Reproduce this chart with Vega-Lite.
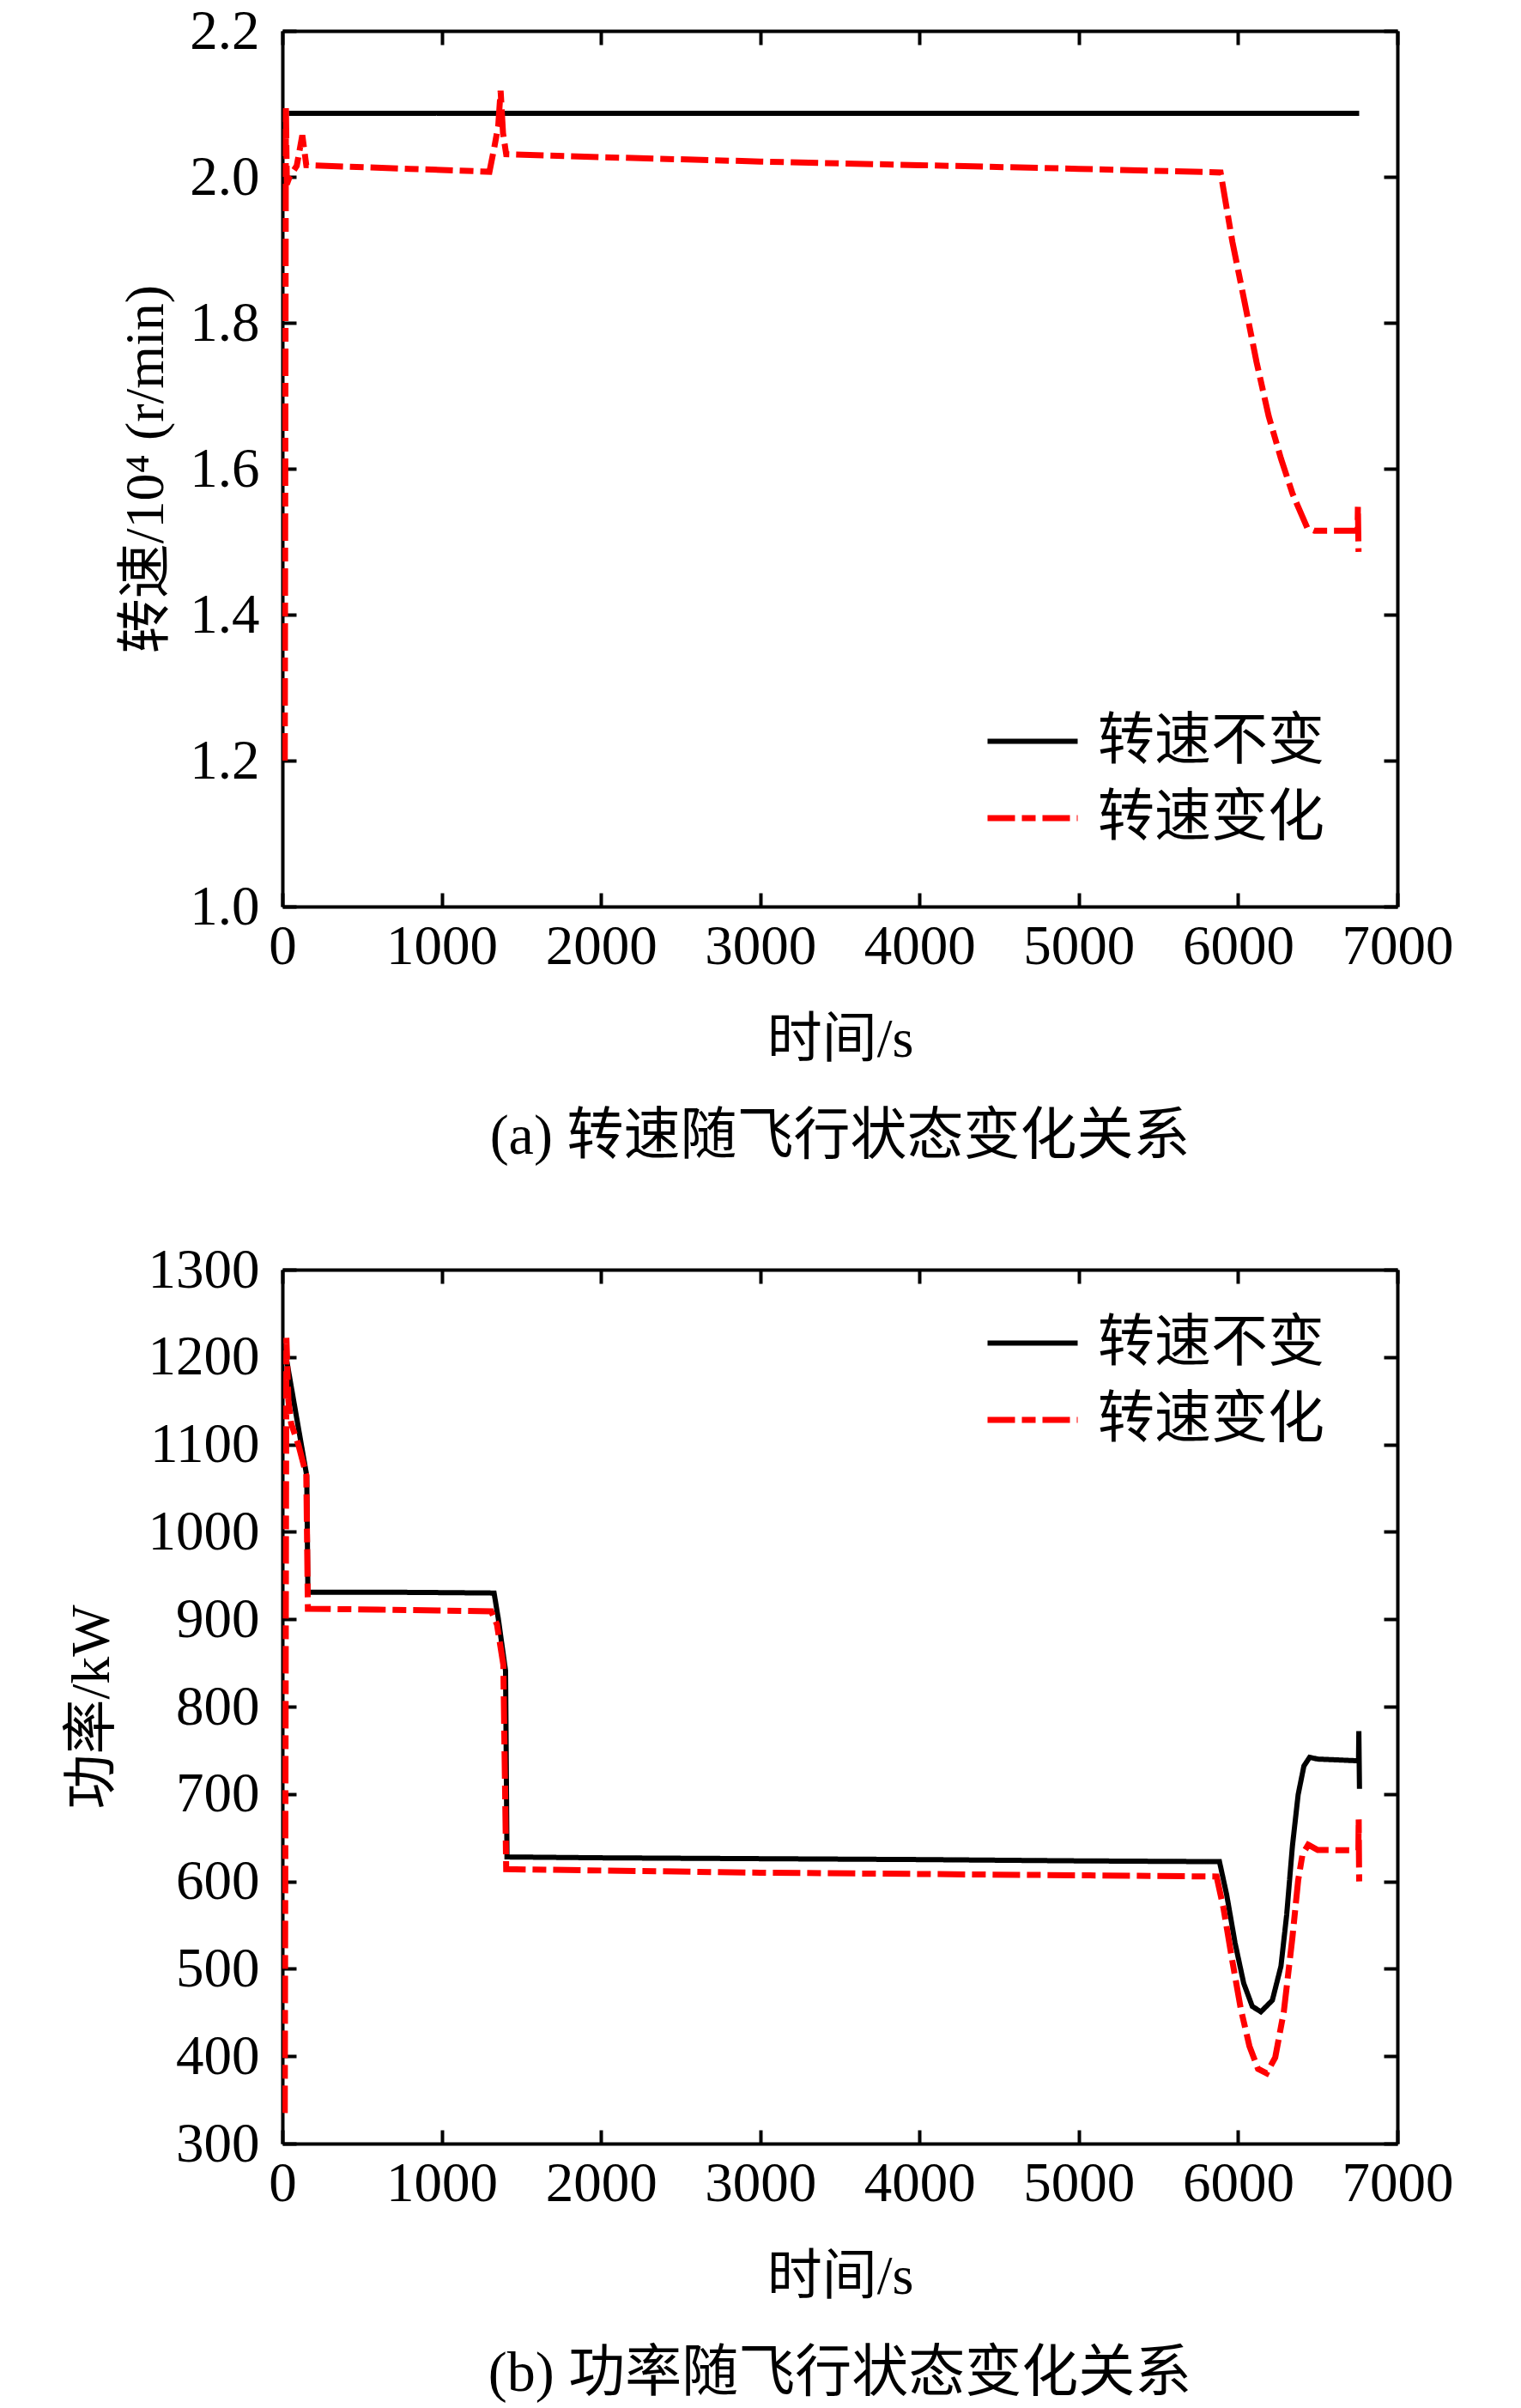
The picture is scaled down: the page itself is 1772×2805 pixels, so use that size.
{
  "$schema": "https://vega.github.io/schema/vega-lite/v6.json",
  "padding": {"left": 75, "top": 4, "right": 5, "bottom": 5},
  "background": "white",
  "datasets": {
    "speed": [
      {"s": "转速不变", "t": 40, "v": 2.087},
      {"s": "转速不变", "t": 1000, "v": 2.087},
      {"s": "转速不变", "t": 2000, "v": 2.087},
      {"s": "转速不变", "t": 3000, "v": 2.087},
      {"s": "转速不变", "t": 4000, "v": 2.087},
      {"s": "转速不变", "t": 5000, "v": 2.087},
      {"s": "转速不变", "t": 6000, "v": 2.087},
      {"s": "转速不变", "t": 6760, "v": 2.087},
      {"s": "转速变化", "t": 15, "v": 1.2},
      {"s": "转速变化", "t": 22, "v": 2.097},
      {"s": "转速变化", "t": 28, "v": 1.99},
      {"s": "转速变化", "t": 45, "v": 2.0},
      {"s": "转速变化", "t": 90, "v": 2.015},
      {"s": "转速变化", "t": 125, "v": 2.057},
      {"s": "转速变化", "t": 150, "v": 2.016},
      {"s": "转速变化", "t": 400, "v": 2.014},
      {"s": "转速变化", "t": 800, "v": 2.011},
      {"s": "转速变化", "t": 1300, "v": 2.007},
      {"s": "转速变化", "t": 1330, "v": 2.04},
      {"s": "转速变化", "t": 1355, "v": 2.07},
      {"s": "转速变化", "t": 1370, "v": 2.118},
      {"s": "转速变化", "t": 1385, "v": 2.06},
      {"s": "转速变化", "t": 1405, "v": 2.031},
      {"s": "转速变化", "t": 2000, "v": 2.027},
      {"s": "转速变化", "t": 3000, "v": 2.021},
      {"s": "转速变化", "t": 4000, "v": 2.016},
      {"s": "转速变化", "t": 5000, "v": 2.011},
      {"s": "转速变化", "t": 5890, "v": 2.006},
      {"s": "转速变化", "t": 5964, "v": 1.911},
      {"s": "转速变化", "t": 6041, "v": 1.828},
      {"s": "转速变化", "t": 6116, "v": 1.746},
      {"s": "转速变化", "t": 6192, "v": 1.672},
      {"s": "转速变化", "t": 6269, "v": 1.614},
      {"s": "转速变化", "t": 6343, "v": 1.565},
      {"s": "转速变化", "t": 6434, "v": 1.519},
      {"s": "转速变化", "t": 6480, "v": 1.515},
      {"s": "转速变化", "t": 6750, "v": 1.515},
      {"s": "转速变化", "t": 6752, "v": 1.548},
      {"s": "转速变化", "t": 6756, "v": 1.486}
    ],
    "power": [
      {"s": "转速不变", "t": 28, "v": 1195},
      {"s": "转速不变", "t": 153, "v": 1064},
      {"s": "转速不变", "t": 160, "v": 931},
      {"s": "转速不变", "t": 600, "v": 931},
      {"s": "转速不变", "t": 1000, "v": 930.5},
      {"s": "转速不变", "t": 1329, "v": 930},
      {"s": "转速不变", "t": 1356, "v": 900},
      {"s": "转速不变", "t": 1401, "v": 841},
      {"s": "转速不变", "t": 1410, "v": 628},
      {"s": "转速不变", "t": 2000, "v": 627},
      {"s": "转速不变", "t": 3000, "v": 626},
      {"s": "转速不变", "t": 4000, "v": 625},
      {"s": "转速不变", "t": 5000, "v": 623.5},
      {"s": "转速不变", "t": 5883, "v": 622.6},
      {"s": "转速不变", "t": 5928, "v": 585},
      {"s": "转速不变", "t": 5981, "v": 529.5},
      {"s": "转速不变", "t": 6035, "v": 483.5},
      {"s": "转速不变", "t": 6089, "v": 457},
      {"s": "转速不变", "t": 6143, "v": 450.8},
      {"s": "转速不变", "t": 6215, "v": 464},
      {"s": "转速不变", "t": 6269, "v": 503},
      {"s": "转速不变", "t": 6305, "v": 562},
      {"s": "转速不变", "t": 6341, "v": 640.5},
      {"s": "转速不变", "t": 6377, "v": 699.4},
      {"s": "转速不变", "t": 6413, "v": 732},
      {"s": "转速不变", "t": 6449, "v": 742},
      {"s": "转速不变", "t": 6500, "v": 740},
      {"s": "转速不变", "t": 6756, "v": 738},
      {"s": "转速不变", "t": 6758, "v": 772},
      {"s": "转速不变", "t": 6762, "v": 706},
      {"s": "转速变化", "t": 15, "v": 335},
      {"s": "转速变化", "t": 25, "v": 1222},
      {"s": "转速变化", "t": 38, "v": 1150},
      {"s": "转速变化", "t": 55, "v": 1124},
      {"s": "转速变化", "t": 100, "v": 1100},
      {"s": "转速变化", "t": 150, "v": 1065},
      {"s": "转速变化", "t": 160, "v": 912},
      {"s": "转速变化", "t": 600, "v": 911},
      {"s": "转速变化", "t": 1000, "v": 910},
      {"s": "转速变化", "t": 1311, "v": 909},
      {"s": "转速变化", "t": 1347, "v": 894},
      {"s": "转速变化", "t": 1387, "v": 848},
      {"s": "转速变化", "t": 1405, "v": 614},
      {"s": "转速变化", "t": 2000, "v": 612.5},
      {"s": "转速变化", "t": 3000, "v": 610},
      {"s": "转速变化", "t": 4000, "v": 608.5},
      {"s": "转速变化", "t": 5000, "v": 607},
      {"s": "转速变化", "t": 5865, "v": 605.6},
      {"s": "转速变化", "t": 5909, "v": 568.6},
      {"s": "转速变化", "t": 5963, "v": 509.7},
      {"s": "转速变化", "t": 6017, "v": 454},
      {"s": "转速变化", "t": 6071, "v": 411.6},
      {"s": "转速变化", "t": 6125, "v": 385.5},
      {"s": "转速变化", "t": 6179, "v": 380.5},
      {"s": "转速变化", "t": 6233, "v": 398.5},
      {"s": "转速变化", "t": 6287, "v": 451},
      {"s": "转速变化", "t": 6341, "v": 536},
      {"s": "转速变化", "t": 6377, "v": 601.3},
      {"s": "转速变化", "t": 6404, "v": 630.7},
      {"s": "转速变化", "t": 6440, "v": 642},
      {"s": "转速变化", "t": 6500, "v": 636},
      {"s": "转速变化", "t": 6755, "v": 635.6},
      {"s": "转速变化", "t": 6757, "v": 671.6},
      {"s": "转速变化", "t": 6760, "v": 600}
    ]
  },
  "vconcat": [
    {
      "width": 1299,
      "height": 1020,
      "data": {"name": "speed"},
      "title": {"text": "(a) 转速随飞行状态变化关系", "orient": "bottom", "anchor": "middle", "offset": 49, "fontSize": 66, "fontWeight": "normal", "font": "Liberation Serif, Noto Sans CJK SC", "color": "black"},
      "layer": [
        {
          "mark": {"type": "line", "clip": true},
          "encoding": {
            "x": {"field": "t", "type": "quantitative", "scale": {"domain": [0, 7000], "nice": false, "zero": false},
                  "axis": {"orient": "bottom", "title": "时间/s", "values": [0, 1000, 2000, 3000, 4000, 5000, 6000, 7000], "format": "d", "labelFlush": false, "labelOverlap": false, "titlePadding": 44}},
            "y": {"field": "v", "type": "quantitative", "scale": {"domain": [1.0, 2.2], "nice": false, "zero": false},
                  "axis": {"orient": "left", "title": "转速/10⁴ (r/min)", "values": [1.0, 1.2, 1.4, 1.6, 1.8, 2.0, 2.2], "format": ".1f", "labelFlush": false, "labelOverlap": false, "labelPadding": 43, "titlePadding": 18}},
            "color": {"field": "s", "type": "nominal", "scale": {"domain": ["转速不变", "转速变化"], "range": ["#000000", "#ff0000"]},
                      "legend": {"title": null, "orient": "none", "legendX": 818, "legendY": 772}},
            "strokeDash": {"field": "s", "type": "nominal", "scale": {"domain": ["转速不变", "转速变化"], "range": [[1, 0], [32, 8, 16, 8]]},
                      "legend": {"title": null, "orient": "none", "legendX": 818, "legendY": 772}},
            "strokeWidth": {"field": "s", "type": "nominal", "scale": {"domain": ["转速不变", "转速变化"], "range": [6, 7]}, "legend": null}
          }
        },
        {
          "mark": {"type": "point", "opacity": 0},
          "encoding": {
            "x": {"field": "t", "type": "quantitative", "axis": {"orient": "top", "labels": false, "title": null, "values": [0, 1000, 2000, 3000, 4000, 5000, 6000, 7000]}},
            "y": {"field": "v", "type": "quantitative", "axis": {"orient": "right", "labels": false, "title": null, "values": [1.0, 1.2, 1.4, 1.6, 1.8, 2.0, 2.2]}}
          }
        }
      ],
      "resolve": {"axis": {"x": "independent", "y": "independent"}}
    },
    {
      "width": 1299,
      "height": 1018,
      "data": {"name": "power"},
      "title": {"text": "(b) 功率随飞行状态变化关系", "orient": "bottom", "anchor": "middle", "offset": 49, "fontSize": 66, "fontWeight": "normal", "font": "Liberation Serif, Noto Sans CJK SC", "color": "black"},
      "layer": [
        {
          "mark": {"type": "line", "clip": true},
          "encoding": {
            "x": {"field": "t", "type": "quantitative", "scale": {"domain": [0, 7000], "nice": false, "zero": false},
                  "axis": {"orient": "bottom", "title": "时间/s", "values": [0, 1000, 2000, 3000, 4000, 5000, 6000, 7000], "format": "d", "labelFlush": false, "labelOverlap": false, "titlePadding": 44}},
            "y": {"field": "v", "type": "quantitative", "scale": {"domain": [300, 1300], "nice": false, "zero": false},
                  "axis": {"orient": "left", "title": "功率/kW", "values": [300, 400, 500, 600, 700, 800, 900, 1000, 1100, 1200, 1300], "format": "d", "labelFlush": false, "labelOverlap": false, "labelPadding": 43, "titlePadding": 33}},
            "color": {"field": "s", "type": "nominal", "scale": {"domain": ["转速不变", "转速变化"], "range": ["#000000", "#ff0000"]},
                      "legend": {"title": null, "orient": "none", "legendX": 818, "legendY": 30}},
            "strokeDash": {"field": "s", "type": "nominal", "scale": {"domain": ["转速不变", "转速变化"], "range": [[1, 0], [32, 8, 16, 8]]},
                      "legend": {"title": null, "orient": "none", "legendX": 818, "legendY": 30}},
            "strokeWidth": {"field": "s", "type": "nominal", "scale": {"domain": ["转速不变", "转速变化"], "range": [6, 7]}, "legend": null}
          }
        },
        {
          "mark": {"type": "point", "opacity": 0},
          "encoding": {
            "x": {"field": "t", "type": "quantitative", "axis": {"orient": "top", "labels": false, "title": null, "values": [0, 1000, 2000, 3000, 4000, 5000, 6000, 7000]}},
            "y": {"field": "v", "type": "quantitative", "axis": {"orient": "right", "labels": false, "title": null, "values": [300, 400, 500, 600, 700, 800, 900, 1000, 1100, 1200, 1300]}}
          }
        }
      ],
      "resolve": {"axis": {"x": "independent", "y": "independent"}}
    }
  ],
  "spacing": 423,
  "bounds": "flush",
  "resolve": {"scale": {"x": "independent", "y": "independent", "color": "independent", "strokeDash": "independent", "strokeWidth": "independent"}, "legend": {"color": "independent", "strokeDash": "independent"}},
  "config": {
    "font": "Liberation Serif, Noto Sans CJK SC",
    "view": {"stroke": null},
    "axis": {
      "grid": false,
      "domainColor": "black",
      "domainWidth": 4,
      "tickColor": "black",
      "tickWidth": 4,
      "tickSize": -16,
      "labelFont": "Liberation Serif",
      "labelFontSize": 65,
      "labelColor": "black",
      "labelPadding": 31,
      "titleFont": "Liberation Serif, Noto Sans CJK SC",
      "titleFontSize": 64,
      "titleFontWeight": "normal",
      "titleColor": "black"
    },
    "legend": {
      "symbolType": "stroke",
      "symbolSize": 11025,
      "symbolStrokeWidth": 6,
      "labelFont": "Liberation Serif, Noto Sans CJK SC",
      "labelFontSize": 66,
      "labelColor": "black",
      "labelOffset": 20,
      "labelLimit": 1000,
      "rowPadding": 0,
      "padding": 0
    }
  }
}
